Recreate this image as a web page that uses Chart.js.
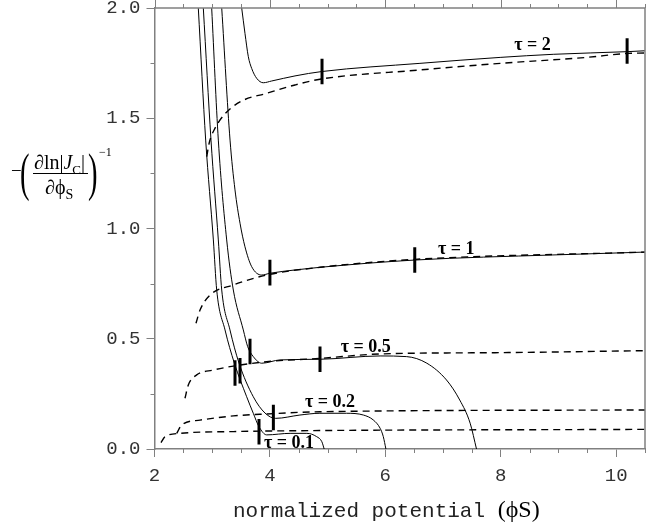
<!DOCTYPE html>
<html>
<head>
<meta charset="utf-8">
<script src="https://cdn.jsdelivr.net/npm/chart.js@4/dist/chart.umd.min.js"></script>
<style>
  html, body { margin: 0; padding: 0; background: #fff; }
  #wrap { position: relative; width: 646px; height: 528px; }
  .t { position: absolute; white-space: nowrap; line-height: 1; font-family: "Liberation Serif", serif; color: #000; }
</style>
</head>
<body>
<div id="wrap">
  <canvas id="chart"></canvas>

  <!-- y axis label: -(d ln|Jc| / d phiS)^-1 -->
  <span class="t" style="left:11px;top:161px;font-size:19px;">&minus;</span>
  <span class="t" style="left:20px;top:147px;font-size:52px;transform:scaleX(0.55);transform-origin:left top;">(</span>
  <span class="t" style="left:34px;top:152px;font-size:20px;"><i>&part;</i>ln|<i>J</i><sub style="font-size:13px;">C</sub>|</span>
  <div style="position:absolute;left:33px;top:173px;width:55px;height:1px;background:#000;"></div>
  <span class="t" style="left:45px;top:177px;font-size:20px;"><i>&part;</i>&#981;<sub style="font-size:14px;">S</sub></span>
  <span class="t" style="left:88px;top:147px;font-size:52px;transform:scaleX(0.55);transform-origin:left top;">)</span>
  <span class="t" style="left:99px;top:146px;font-size:12px;">&minus;1</span>

  <!-- x axis title -->
  <div class="t" style="left:233px;top:497px;">
    <span style="font-family:'Liberation Mono',monospace;font-size:21px;color:#222;">normalized potential </span><span style="font-size:24px;">(&#981;S)</span>
  </div>
</div>

<script>
// ---- data ----
const xTicks = [2, 4, 6, 8, 10];
const yTicks = [0.0, 0.5, 1.0, 1.5, 2.0];

// solid curves
const tau01Solid = [[2.759,2.0],[2.887,1.401],[3.02,0.948],[3.078,0.721],[3.222,0.540],[3.383,0.390],[3.597,0.237],[3.712,0.162],[3.811,0.101],[3.944,0.064],[4.35,0.071],[4.64,0.071],[4.81,0.056],[4.90,0.033],[4.94,0.0]];
const tau02Solid = [[2.846,2.0],[2.979,1.401],[3.106,0.948],[3.165,0.721],[3.308,0.540],[3.464,0.390],[3.712,0.237],[3.915,0.163],[4.1,0.139],[4.52,0.154],[4.866,0.162],[5.33,0.162],[5.62,0.154],[5.79,0.132],[5.91,0.094],[5.965,0.056],[6.01,0.0]];
const tau05Solid = [[2.991,2.0],[3.106,1.401],[3.251,0.948],[3.366,0.721],[3.539,0.540],[3.615,0.464],[3.712,0.419],[3.858,0.389],[4.175,0.404],[4.868,0.407],[5.91,0.422],[6.37,0.419],[6.72,0.389],[7.06,0.313],[7.29,0.222],[7.47,0.117],[7.58,0.0]];
const tau1Solid = [[3.165,2.0],[3.309,1.401],[3.395,1.175],[3.482,1.024],[3.568,0.917],[3.684,0.827],[3.858,0.789],[4.0,0.797],[4.435,0.812],[4.868,0.824],[6.51,0.857],[8.9,0.880],[10.5,0.893]];
const tau2Solid = [[3.511,2.0],[3.568,1.885],[3.626,1.779],[3.684,1.726],[3.771,1.681],[3.886,1.661],[4.03,1.669],[4.435,1.692],[4.903,1.712],[6.60,1.749],[7.99,1.776],[8.91,1.790],[10.19,1.802],[10.5,1.806]];

// dashed curves
const tau01Dash = [[2.113,0.029],[2.182,0.056],[2.442,0.071],[3.366,0.079],[4.52,0.083],[10.5,0.089]];
const tau02Dash = [[2.385,0.071],[2.471,0.109],[2.789,0.131],[3.366,0.150],[3.944,0.159],[4.868,0.169],[10.5,0.177]];
const tau05Dash = [[2.528,0.230],[2.586,0.290],[2.731,0.336],[3.019,0.358],[3.366,0.376],[3.944,0.396],[4.868,0.411],[5.91,0.431],[7.99,0.437],[10.5,0.446]];
const tau1Dash = [[2.719,0.570],[2.789,0.630],[2.962,0.698],[3.366,0.744],[3.944,0.789],[4.868,0.824],[6.51,0.860],[10.5,0.893]];
const tau2Dash = [[2.905,1.326],[2.95,1.39],[3.049,1.455],[3.222,1.520],[3.511,1.578],[3.944,1.613],[4.435,1.651],[4.868,1.677],[6.60,1.719],[7.99,1.749],[9.49,1.776],[10.19,1.794],[10.5,1.796]];

// centres of the short vertical markers on the curves
const markerPoints = [[4.903,1.712],[10.19,1.805],[4.0,0.800],[6.51,0.857],[3.655,0.442],[4.868,0.407],[3.395,0.345],[3.482,0.355],[4.06,0.143],[3.811,0.078]];

// curve labels
const labelText = ['τ = 2', 'τ = 1', 'τ = 0.5', 'τ = 0.2', 'τ = 0.1'];
const labelX = [8.55, 7.23, 5.66, 5.04, 4.33];
const labelY = [1.832, 0.907, 0.46, 0.211, 0.027];

// ---- chart ----
const axisGray = '#808080';
const markerHalf = 0.058; // half height of a marker, y units
const toXY = arr => arr.map(p => ({ x: p[0], y: p[1] }));

function solid(d) {
  return { data: toXY(d), borderColor: '#000', borderWidth: 1, pointRadius: 0, cubicInterpolationMode: 'monotone', fill: false };
}
function dashed(d) {
  return { data: toXY(d), borderColor: '#000', borderWidth: 1.4, borderDash: [7, 5], pointRadius: 0, cubicInterpolationMode: 'monotone', fill: false };
}
function marker(p) {
  return { data: [{ x: p[0], y: p[1] - markerHalf }, { x: p[0], y: p[1] + markerHalf }], borderColor: '#000', borderWidth: 3, pointRadius: 0, borderCapStyle: 'butt' };
}

const frame = {
  id: 'frame',
  afterDraw(chart) {
    const { ctx, chartArea: a, scales: { x, y } } = chart;
    ctx.save();
    ctx.strokeStyle = axisGray;
    ctx.lineWidth = 1.5;
    ctx.beginPath();
    ctx.moveTo(a.left, a.top); ctx.lineTo(a.right, a.top); ctx.lineTo(a.right, a.bottom);
    ctx.stroke();
    ctx.lineWidth = 1;
    ctx.beginPath();
    for (let v = 2; v <= 10.5; v += 0.5) {
      const px = Math.round(x.getPixelForValue(v)) + 0.5;
      const major = v % 2 === 0;
      ctx.moveTo(px, a.top); ctx.lineTo(px, a.top - (major ? 8 : 4));
      if (!major) { ctx.moveTo(px, a.bottom); ctx.lineTo(px, a.bottom + 4); }
    }
    for (let v = 0.25; v < 2; v += 0.5) {
      const py = Math.round(y.getPixelForValue(v)) + 0.5;
      ctx.moveTo(a.left, py); ctx.lineTo(a.left - 4, py);
    }
    ctx.stroke();
    ctx.restore();
  },
  afterDatasetsDraw(chart) {
    const { ctx, scales: { x, y } } = chart;
    ctx.save();
    ctx.fillStyle = '#000';
    ctx.font = 'bold 18px "Liberation Serif"';
    ctx.textAlign = 'center';
    ctx.textBaseline = 'middle';
    labelText.forEach((t, i) => ctx.fillText(t, x.getPixelForValue(labelX[i]), y.getPixelForValue(labelY[i])));
    ctx.restore();
  }
};

new Chart(document.getElementById('chart'), {
  type: 'line',
  data: {
    datasets: [
      solid(tau01Solid), solid(tau02Solid), solid(tau05Solid), solid(tau1Solid), solid(tau2Solid),
      dashed(tau01Dash), dashed(tau02Dash), dashed(tau05Dash), dashed(tau1Dash), dashed(tau2Dash),
      ...markerPoints.map(marker)
    ]
  },
  options: {
    responsive: true,
    maintainAspectRatio: false,
    animation: false,
    layout: { padding: { left: 100, right: 1, top: 8, bottom: 39 } },
    plugins: { legend: { display: false }, tooltip: { enabled: false } },
    scales: {
      x: {
        type: 'linear', min: 2, max: 10.5,
        afterBuildTicks: s => { s.ticks = xTicks.map(v => ({ value: v })); },
        afterFit: s => { s.height = 40; s.paddingLeft = 0; s.paddingRight = 0; },
        ticks: { font: { family: 'Liberation Mono', size: 19 }, color: '#333', padding: 8, maxRotation: 0 },
        grid: { drawOnChartArea: false, drawTicks: true, tickLength: 8, color: axisGray },
        border: { display: true, color: axisGray, width: 1.5 }
      },
      y: {
        type: 'linear', min: 0, max: 2,
        afterBuildTicks: s => { s.ticks = yTicks.map(v => ({ value: v })); },
        afterFit: s => { s.width = 54.5; s.paddingTop = 0; s.paddingBottom = 0; },
        ticks: { font: { family: 'Liberation Mono', size: 19 }, color: '#333', padding: 6, callback: v => v.toFixed(1) },
        grid: { drawOnChartArea: false, drawTicks: true, tickLength: 8, color: axisGray },
        border: { display: true, color: axisGray, width: 1.5 }
      }
    }
  },
  plugins: [frame]
});
</script>
</body>
</html>
